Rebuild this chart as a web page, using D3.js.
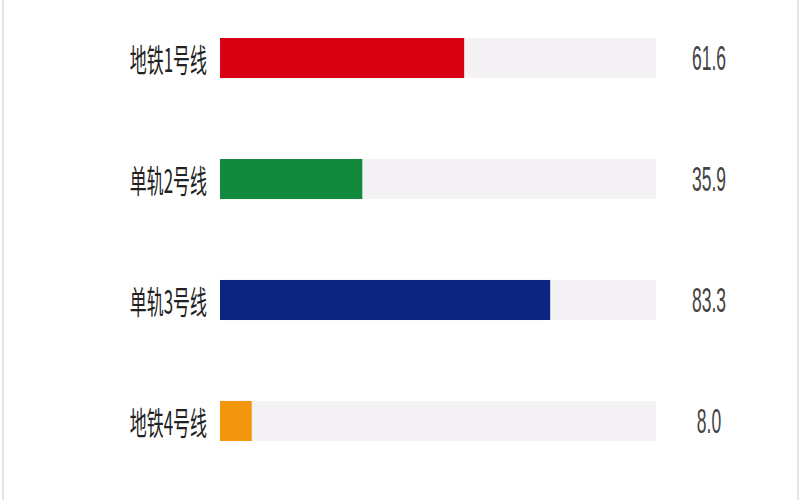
<!DOCTYPE html>
<html lang="zh">
<head>
    <meta charset="UTF-8">
    <title>轨道线路</title>
    <style>
        body{ margin:0; background:#fff; }
        svg{ display:block; }
    </style>
</head>
<body>
    <script src="https://cdn.jsdelivr.net/npm/d3@7"></script>
    <script>
        // donnees
        const lignes = ['地铁1号线', '单轨2号线', '单轨3号线', '地铁4号线'];
        const valeurs = [61.6, 35.9, 83.3, 8.0];
        const couleurs = ['#da0013', '#128a3e', '#0b2580', '#f1960d'];
        const maxEchelle = 110;

        const largeur = 800, hauteur = 500;
        const donnees = lignes.map((l, i) => ({ ligne: l, valeur: valeurs[i], couleur: couleurs[i] }));

        const svg = d3.select('body').append('svg')
            .attr('width', largeur)
            .attr('height', hauteur);

        // bordures gauche / droite
        svg.append('line').attr('x1', 3).attr('x2', 3).attr('y1', 0).attr('y2', hauteur)
            .attr('stroke', '#dcdcdc').attr('stroke-width', 1.5);
        svg.append('line').attr('x1', 798).attr('x2', 798).attr('y1', 0).attr('y2', hauteur)
            .attr('stroke', '#dcdcdc').attr('stroke-width', 1.5);

        const x = d3.scaleLinear().domain([0, maxEchelle]).range([220, 656]);
        const y = d3.scaleBand().domain(lignes).range([38, 441]).paddingInner(0.669).paddingOuter(0);

        // piste de fond
        svg.append('g').selectAll('rect')
            .data(donnees)
            .enter()
            .append('rect')
                .attr('x', x(0))
                .attr('y', d => y(d.ligne))
                .attr('width', x(maxEchelle) - x(0))
                .attr('height', y.bandwidth())
                .attr('fill', '#f5f2f5');

        // barres
        svg.append('g').selectAll('rect')
            .data(donnees)
            .enter()
            .append('rect')
                .attr('x', x(0))
                .attr('y', d => y(d.ligne))
                .attr('width', d => x(d.valeur) - x(0))
                .attr('height', y.bandwidth())
                .attr('fill', d => d.couleur);

        // etiquettes a gauche (texte etroit)
        svg.append('g').selectAll('text')
            .data(donnees)
            .enter()
            .append('text')
                .attr('transform', d => `translate(207,${y(d.ligne) + y.bandwidth() / 2}) scale(0.53,1)`)
                .attr('text-anchor', 'end')
                .attr('dominant-baseline', 'central')
                .style('font-family', '"Noto Sans CJK SC", sans-serif')
                .style('font-size', '32px')
                .style('fill', '#222')
                .text(d => d.ligne);

        // valeurs a droite
        svg.append('g').selectAll('text')
            .data(donnees)
            .enter()
            .append('text')
                .attr('transform', d => `translate(709,${y(d.ligne) + y.bandwidth() / 2}) scale(0.5,1)`)
                .attr('text-anchor', 'middle')
                .attr('dominant-baseline', 'central')
                .style('font-family', '"Liberation Sans", sans-serif')
                .style('font-size', '35px')
                .style('fill', '#444')
                .text(d => d.valeur.toFixed(1));
    </script>
</body>
</html>
